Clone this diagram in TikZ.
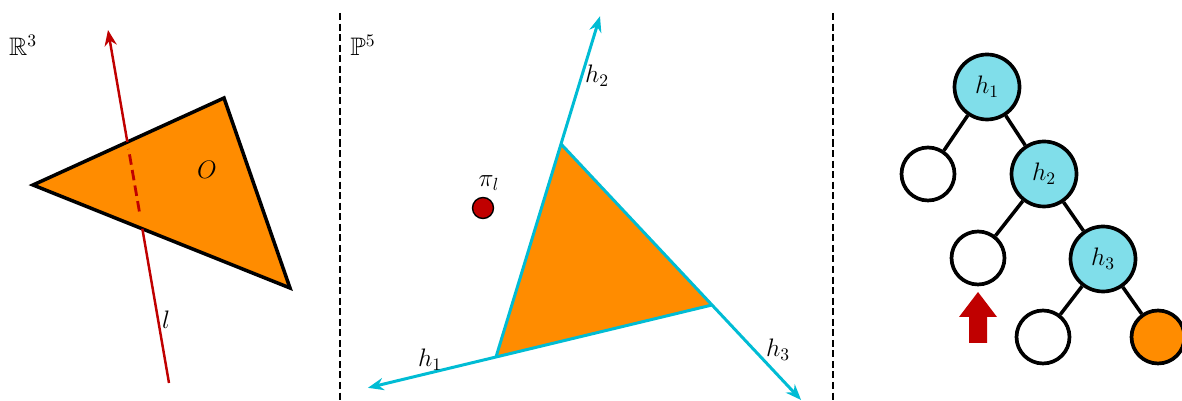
\documentclass[tikz,border=0pt]{standalone}
\usepackage{amsmath,amssymb}
\usepackage{xcolor}
\usetikzlibrary{arrows.meta,calc}
\definecolor{hitred}{RGB}{192,0,0}
\definecolor{faceorange}{RGB}{255,140,0}
\definecolor{raycyan}{RGB}{0,188,212}
\definecolor{hypcyan}{RGB}{128,222,234}
\tikzset{
  hypnode/.style={circle,draw=black,line width=2.1pt,fill=hypcyan,
    minimum size=1.30cm,inner sep=0pt,font=\Large},
  leafnode/.style={circle,draw=black,line width=2.1pt,fill=white,
    minimum size=1.06cm,inner sep=0pt},
  hitleaf/.style={leafnode,fill=faceorange},
  treeedge/.style={line width=2pt,black},
  rayedge/.style={line width=1.7pt,raycyan,-{Stealth[length=9pt,width=7pt]}},
  lineedge/.style={line width=1.4pt,hitred},
  panelsep/.style={line width=0.9pt,dash pattern=on 4pt off 2pt},
  labelnode/.style={inner sep=0pt,font=\Large},
  spacenode/.style={inner sep=0pt,font=\Large},
  dualpoint/.style={circle,draw=black,line width=0.8pt,fill=hitred,
    minimum size=0.42cm,inner sep=0pt}
}

\begin{document}
\begin{tikzpicture}[x=0.02cm,y=-0.02cm]
  \useasboundingbox (0,0) rectangle (1182,401);

  % primal space
  \node[spacenode] (R3) at (23,45) {$\mathbb{R}^3$};
  \coordinate (ta) at (33,185);
  \coordinate (tb) at (224,98);
  \coordinate (tc) at (290,288);
  \filldraw[fill=faceorange,draw=black,line width=2pt,line join=miter] (ta)--(tb)--(tc)--cycle;
  \node[labelnode] (O) at (207,170) {$O$};
  \coordinate (lbot) at (169,383);
  \coordinate (ltop) at (108,30);
  \coordinate (lin) at (intersection of lbot--ltop and ta--tc);
  \coordinate (lout) at (intersection of lbot--ltop and ta--tb);
  \draw[lineedge] (lbot)--(lin);
  \draw[lineedge,line width=1.6pt,dash pattern=on 6pt off 3pt]
    ($(lin)!0.2!(lout)$)--($(lout)!0.08!(lin)$);
  \draw[lineedge,-{Stealth[length=9pt,width=7pt]}] (lout)--(ltop);
  \node[labelnode] (lab) at (166,320) {$l$};

  \draw[panelsep] (340,13)--(340,401);
  \draw[panelsep] (833,13)--(833,401);

  % dual space
  \node[spacenode] (P5) at (363,45) {$\mathbb{P}^5$};
  \coordinate (A) at (496,357);
  \coordinate (B) at (561,144);
  \coordinate (C) at (712,305);
  \fill[faceorange] (A)--(B)--(C)--cycle;
  \coordinate (h1tip) at ($(C)!1.593!(A)$);
  \coordinate (h2tip) at ($(A)!1.600!(B)$);
  \coordinate (h3tip) at ($(B)!1.590!(C)$);
  \draw[rayedge] (C)--(h1tip);
  \draw[rayedge] (A)--(h2tip);
  \draw[rayedge] (B)--(h3tip);
  \node[labelnode] (h1lab) at (430,360) {$h_1$};
  \node[labelnode] (h2lab) at (597,76) {$h_2$};
  \node[labelnode] (h3lab) at (778,350) {$h_3$};
  \node[dualpoint] (pil) at (483,208) {};
  \node[labelnode] (pilab) at (489,183) {$\pi_l$};

  % search tree
  \node[hypnode] (n1) at (987,87) {$h_1$};
  \node[leafnode] (n1l) at (928,174) {};
  \node[hypnode] (n2) at (1044,174) {$h_2$};
  \node[leafnode] (n2l) at (978,258) {};
  \node[hypnode] (n3) at (1103,259) {$h_3$};
  \node[leafnode] (n3l) at (1043,337) {};
  \node[hitleaf] (n3r) at (1158,337) {};
  \draw[treeedge] (n1)--(n1l);
  \draw[treeedge] (n1)--(n2);
  \draw[treeedge] (n2)--(n2l);
  \draw[treeedge] (n2)--(n3);
  \draw[treeedge] (n3)--(n3l);
  \draw[treeedge] (n3)--(n3r);
  \fill[hitred] (969,343)--(987,343)--(987,317)--(997,317)--(978,292)
    --(959,317)--(969,317)--cycle;
\end{tikzpicture}
\end{document}
